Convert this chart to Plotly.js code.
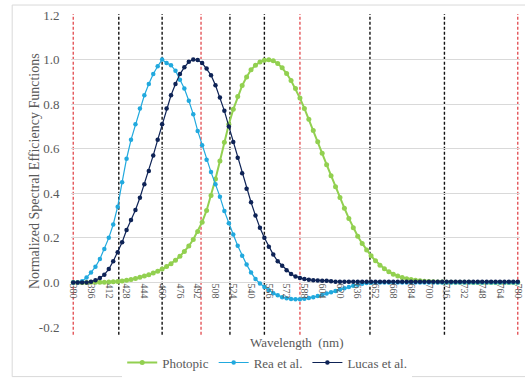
<!DOCTYPE html>
<html>
<head>
<meta charset="utf-8">
<script src="https://cdn.plot.ly/plotly-3.0.1.min.js"></script>
<style>html,body{margin:0;padding:0;background:#fff;}#chart{width:525px;height:383px;}</style>
</head>
<body>
<div id="chart"></div>
<script>
// Wavelength categories (nm)
const wavelengths = [
 380,384,388,392,396,400,404,408,412,416,420,424,428,432,436,440,444,448,452,456,
 460,464,468,472,476,480,484,488,492,496,500,504,508,512,516,520,524,528,532,536,
 540,544,548,552,556,560,564,568,572,576,580,584,588,592,596,600,604,608,612,616,
 620,624,628,632,636,640,644,648,652,656,660,664,668,672,676,680,684,688,692,696,
 700,704,708,712,716,720,724,728,732,736,740,744,748,752,756,760,764,768,772,776,780];

const photopic = [
 0.00004,0.00006,0.0001,0.00016,0.00026,0.0004,0.0006,0.001,0.0015,0.0025,
 0.004,0.0066,0.0099,0.0137,0.0181,0.023,0.0284,0.0346,0.042,0.0504,
 0.06,0.0711,0.0842,0.0996,0.1171,0.139,0.1632,0.1925,0.2282,0.2704,
 0.323,0.3904,0.4645,0.5451,0.6286,0.71,0.7766,0.8345,0.8832,0.9221,
 0.954,0.975,0.989,0.997,0.999,0.995,0.982,0.963,0.9374,0.9064,
 0.87,0.8272,0.7807,0.7321,0.6821,0.631,0.5796,0.5285,0.4783,0.4292,
 0.381,0.333,0.2874,0.2458,0.2074,0.175,0.1456,0.1195,0.0968,0.0775,
 0.061,0.0479,0.037,0.0285,0.0219,0.017,0.0127,0.0094,0.0071,0.0054,
 0.0041,0.0032,0.0023,0.0018,0.0013,0.001,0.0007,0.0005,0.00035,0.00025,
 0.00017,0.00012,0.00009,0.00006,0.00004,0.00003,0.00002,0.00002,0.00001,0.00001,0.00001];

const rea = [
 0,0,0.005,0.022,0.045,0.07,0.105,0.15,0.2,0.26,
 0.34,0.45,0.555,0.64,0.71,0.78,0.84,0.89,0.935,0.97,
 1.0,0.985,0.975,0.95,0.91,0.87,0.815,0.755,0.68,0.615,
 0.55,0.495,0.44,0.385,0.32,0.265,0.215,0.165,0.12,0.08,
 0.045,0.015,-0.005,-0.02,-0.035,-0.048,-0.058,-0.066,-0.071,-0.074,
 -0.075,-0.075,-0.073,-0.07,-0.066,-0.061,-0.056,-0.05,-0.044,-0.038,
 -0.032,-0.026,-0.02,-0.015,-0.01,-0.006,-0.003,-0.001,0,0,
 0,0,0,0,0,0,0,0,0,0,
 0,0,0,0,0,0,0,0,0,0,
 0,0,0,0,0,0,0,0,0,0,0];

const lucas = [
 0,0,0,0,0.003,0.01,0.02,0.035,0.06,0.095,
 0.135,0.18,0.235,0.28,0.325,0.38,0.44,0.5,0.57,0.64,
 0.71,0.78,0.84,0.89,0.935,0.965,0.99,1.0,0.998,0.985,
 0.96,0.93,0.885,0.83,0.77,0.7,0.63,0.56,0.49,0.42,
 0.36,0.3,0.245,0.2,0.16,0.125,0.095,0.075,0.055,0.038,
 0.027,0.02,0.015,0.012,0.01,0.009,0.008,0.008,0.005,0.003,
 0.003,0.003,0.003,0.003,0.003,0.003,0.003,0.003,0.003,0.003,
 0.003,0.003,0.003,0.003,0.003,0.003,0.003,0.003,0.003,0.003,
 0.003,0.003,0.003,0.003,0.003,0.003,0.003,0.003,0.003,0.003,
 0.003,0.003,0.003,0.003,0.003,0.003,0.003,0.003,0.003,0.003,0.003];

const xTickVals = [380,396,412,428,444,460,476,492,508,524,540,556,572,588,604,620,636,652,668,684,700,716,732,748,764,780];
const yTickVals = [-0.2,0,0.2,0.4,0.6,0.8,1.0,1.2];

// Band boundary markers (nm)
const redLines = [380, 495, 584, 780];
const blackLines = [421, 460, 521, 552, 647, 714];

const FONT = '"Liberation Serif", "Times New Roman", serif';
const GREY = '#595959';

const traces = [
 {x: wavelengths, y: photopic, name: 'Photopic', type: 'scatter', mode: 'lines+markers',
  line: {color: '#92D050', width: 2}, marker: {color: '#92D050', size: 5}, cliponaxis: false},
 {x: wavelengths, y: rea, name: 'Rea et al.', type: 'scatter', mode: 'lines+markers',
  line: {color: '#21A9DE', width: 1.2}, marker: {color: '#21A9DE', size: 4.5}, cliponaxis: false},
 {x: wavelengths, y: lucas, name: 'Lucas et al.', type: 'scatter', mode: 'lines+markers',
  line: {color: '#0E2356', width: 1.2}, marker: {color: '#0E2356', size: 4.5}, cliponaxis: false}
];

const shapes = [];
redLines.forEach(v => shapes.push({type: 'line', xref: 'x', yref: 'paper', x0: v, x1: v, y0: -0.025, y1: 1.003,
  line: {color: '#E0393E', width: 1.2, dash: '3px,2px'}, layer: 'below'}));
blackLines.forEach(v => shapes.push({type: 'line', xref: 'x', yref: 'paper', x0: v, x1: v, y0: -0.025, y1: 1.003,
  line: {color: '#111111', width: 1.4, dash: '3px,2px'}, layer: 'below'}));
// chart border
shapes.push({type: 'rect', xref: 'paper', yref: 'paper', x0: -0.131, x1: 1.03, y0: -0.159, y1: 1.032,
  line: {color: '#d9d9d9', width: 1}, fillcolor: 'rgba(0,0,0,0)', layer: 'below'});

const layout = {
 width: 525, height: 383,
 margin: {l: 71, r: 5, t: 15, b: 53},
 paper_bgcolor: '#ffffff', plot_bgcolor: '#ffffff',
 font: {family: FONT, color: GREY, size: 13},
 showlegend: true,
 legend: {orientation: 'h', x: 0.437, xanchor: 'center', y: -0.114, yanchor: 'middle',
  font: {family: FONT, size: 13, color: GREY}, itemwidth: 30, tracegroupgap: 0},
 xaxis: {
  type: 'linear', range: [378, 782],
  tickmode: 'array', tickvals: xTickVals, ticktext: xTickVals.map(String),
  tickangle: 90, tickfont: {family: FONT, size: 10, color: GREY},
  ticklabeloverflow: 'allow',
  showgrid: false, zeroline: false,
  showline: false,
  anchor: 'free', position: 0.2 / 1.4,
  ticks: '', fixedrange: true
 },
 yaxis: {
  range: [-0.2, 1.2], tickmode: 'array', tickvals: yTickVals,
  ticktext: yTickVals.map(v => v.toFixed(1)),
  tickfont: {family: FONT, size: 13, color: GREY},
  showgrid: true, gridcolor: '#d9d9d9', gridwidth: 1,
  zeroline: false, showline: false,
  ticks: 'outside', ticklen: 8, tickcolor: 'rgba(0,0,0,0)'
 },
 shapes: shapes,
 annotations: [
  {text: 'Wavelength  (nm)', xref: 'paper', yref: 'paper', x: 0.503, y: -0.0508,
   xanchor: 'center', yanchor: 'middle', showarrow: false, font: {family: FONT, size: 13, color: GREY}},
  {text: 'Normalized Spectral Efficiency Functions', xref: 'paper', yref: 'paper', x: -0.0822, y: 0.5,
   xanchor: 'center', yanchor: 'middle', textangle: -90, showarrow: false,
   font: {family: FONT, size: 14, color: GREY}}
 ]
};

Plotly.newPlot('chart', traces, layout, {displayModeBar: false, staticPlot: true});
</script>
</body>
</html>
